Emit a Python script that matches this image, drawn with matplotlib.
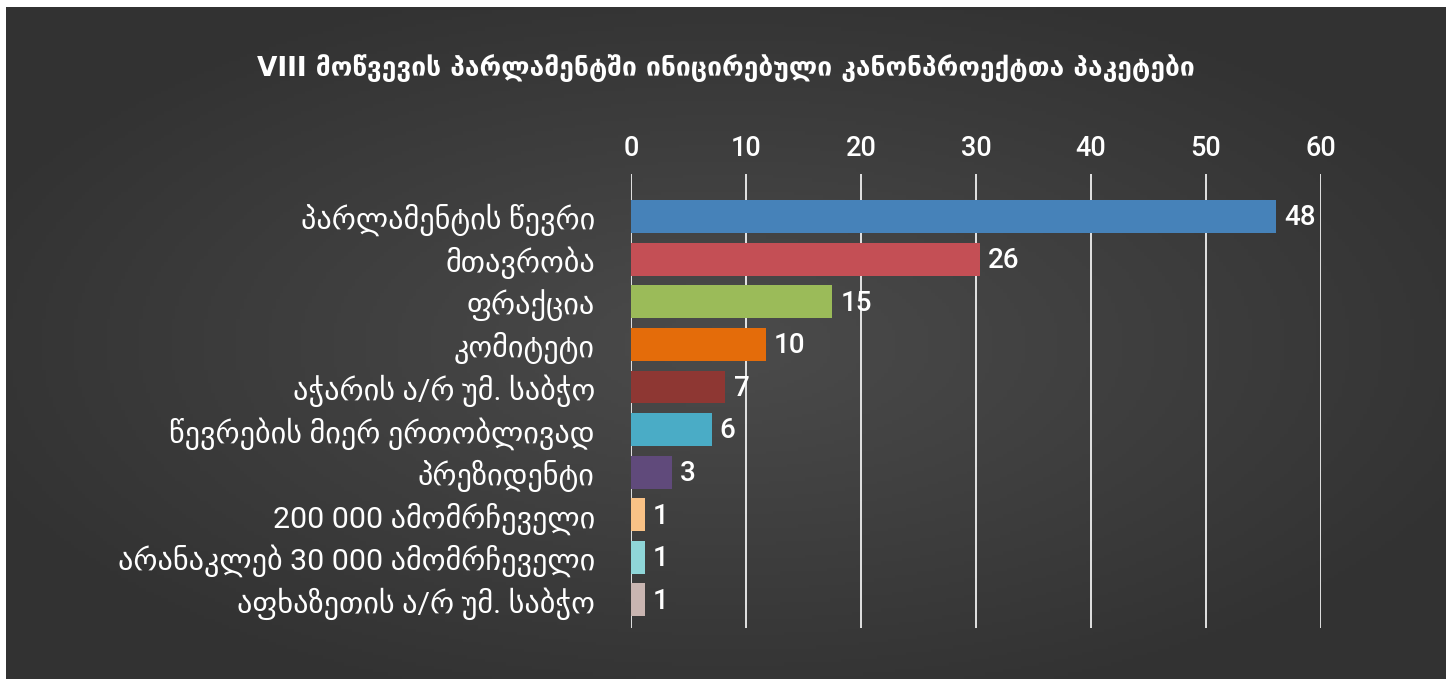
import numpy as np
import matplotlib
matplotlib.use("Agg")
import matplotlib.pyplot as plt

# Data (bar lengths; printed labels as shown)
categories = ["პარლამენტის წევრი", "მთავრობა", "ფრაქცია", "კომიტეტი",
              "აჭარის ა/რ უმ. საბჭო", "წევრების მიერ ერთობლივად", "პრეზიდენტი",
              "200 000 ამომრჩეველი", "არანაკლებ 30 000 ამომრჩეველი",
              "აფხაზეთის ა/რ უმ. საბჭო"]
bar_values = [56.1, 30.35, 17.5, 11.7, 8.2, 7.0, 3.55, 1.2, 1.2, 1.2]
label_values = [48, 26, 15, 10, 7, 6, 3, 1, 1, 1]
colors = ["#4682b9", "#c44f55", "#9bbb59", "#e46c0a", "#8e3733", "#4aacc6",
          "#604a7b", "#f9c286", "#8fd6d8", "#c9b5b1"]
xticks = [0, 10, 20, 30, 40, 50, 60]
title = "VIII მოწვევის პარლამენტში ინიცირებული კანონპროექტთა პაკეტები"

fonts = ["Roboto", "DejaVu Sans"]

fig = plt.figure(figsize=(14.51, 6.79), dpi=100)
fig.patch.set_facecolor("white")

# dark panel with radial gradient
W, H = 1451, 679
bg = fig.add_axes([6 / W, 0, 1440 / W, 672 / H])
bg.set_axis_off()
yy, xx = np.mgrid[0:200, 0:400]
r = np.sqrt(((xx - 200) / 200) ** 2 + ((yy - 100) / 100) ** 2) / np.sqrt(2)
val = 0.295 - 0.095 * np.clip(r * 1.3, 0, 1)
bg.imshow(np.dstack([val, val, val]), aspect="auto", extent=[0, 1, 0, 1])
bg.set_xlim(0, 1)
bg.set_ylim(0, 1)

ax = fig.add_axes([631 / W, 1 - 628 / H, 690 / W, 454 / H])
ax.patch.set_alpha(0)
y = np.arange(len(categories))
ax.barh(y, bar_values, height=0.77, color=colors, zorder=3)
ax.set_xlim(0, 60)
ax.set_ylim(9.66, -1.0)
ax.set_xticks(xticks)
ax.grid(axis="x", color="white", lw=1.2, zorder=1)
ax.xaxis.tick_top()
ax.tick_params(axis="x", length=0, pad=9, labelcolor="white", labelsize=19.5)
ax.tick_params(axis="y", length=0, pad=26, labelcolor="white", labelsize=21.8)
ax.set_yticks(y)
ax.set_yticklabels(categories, family=fonts)
for lab in ax.get_xticklabels():
    lab.set_family(fonts)
    lab.set_fontweight("medium")
for s in ax.spines.values():
    s.set_visible(False)

for yi, v, lv in zip(y, bar_values, label_values):
    ax.annotate(str(lv), (v, yi), xytext=(6, -1), textcoords="offset points",
                va="center", ha="left", color="white", fontsize=20,
                fontweight="medium", family=fonts)

fig.text(0.5, 1 - 68 / H, title, ha="center", va="center", color="white",
         fontsize=19, fontweight="bold", family=["DejaVu Sans"])

plt.savefig("out.png", dpi=100)
plt.close()
